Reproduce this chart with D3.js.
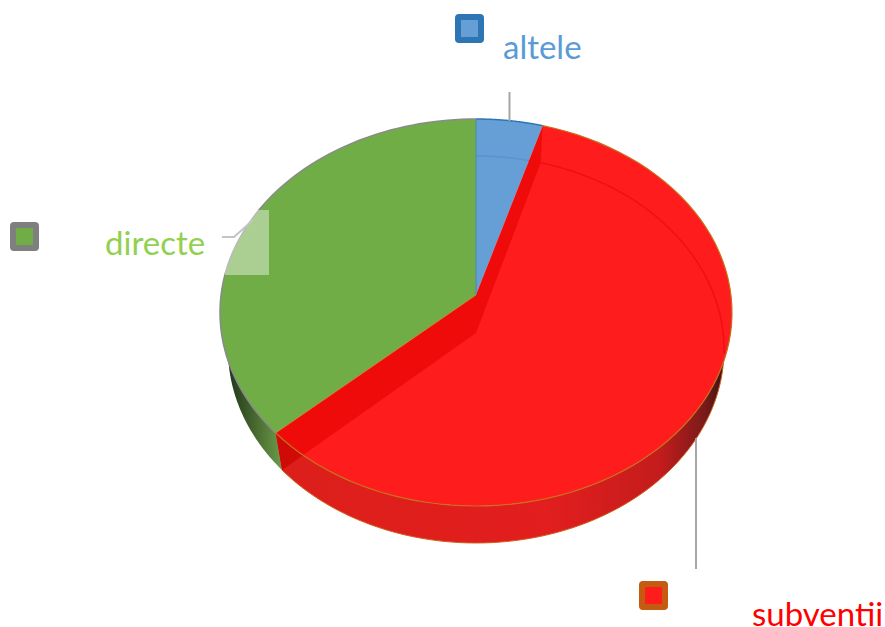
<!DOCTYPE html>
<html>
<head>
<meta charset="utf-8">
<script src="https://cdn.jsdelivr.net/npm/d3@7"></script>
<style>
  html, body { margin: 0; padding: 0; background: #fff; overflow: hidden; }
  text { font-family: Lato, "Open Sans", sans-serif; font-size: 33px; }
</style>
</head>
<body>
<div id="chart"></div>
<script>
// values, clockwise from 12 o'clock
var categories = ['altele', 'subventii', 'directe'];
var values = [4.2, 60.1, 35.7];

var width = 885, height = 627;
var top3d = {cx: 476, cy: 312.5, rx: 256, ry: 193.5};
var bottom3d = {cx: 476, cy: 349.5, rx: 248, ry: 193.5};
var apex = [476, 295], apexLow = [476, 333];

var svg = d3.select('#chart').append('svg')
    .attr('width', width)
    .attr('height', height);

var defs = svg.append('defs');

function gradient(id, x1, x2, stops) {
    var g = defs.append('linearGradient')
        .attr('id', id)
        .attr('gradientUnits', 'userSpaceOnUse')
        .attr('x1', x1).attr('x2', x2)
        .attr('y1', 0).attr('y2', 0);
    stops.forEach(s => g.append('stop').attr('offset', s[0]).attr('stop-color', s[1]));
}

gradient('wallRed', 280, 727, [[0, '#dc1f1a'], [0.6, '#e21e1e'], [0.85, '#c41c1c'], [0.95, '#7a1a1a'], [1, '#2e1212']]);
gradient('wallGreen', 228, 282, [[0, '#22361a'], [0.5, '#47682f'], [1, '#6b9c4a']]);

var arcs = d3.pie().sort(null)(values);
var blue = arcs[0], red = arcs[1], green = arcs[2];

// point on an ellipse, angle clockwise from the top
function pt(e, a) {
    return [e.cx + e.rx * Math.sin(a), e.cy - e.ry * Math.cos(a)];
}

function arcPts(e, a0, a1) {
    var n = 80;
    return d3.range(n + 1).map(i => pt(e, a0 + (a1 - a0) * i / n));
}

var openLine = d3.line();
var closedLine = d3.line().curve(d3.curveLinearClosed);

function face(points, fill, stroke) {
    return svg.append('path')
        .attr('d', closedLine(points))
        .attr('fill', fill)
        .attr('stroke', stroke || 'none');
}

function edge(e, a0, a1, color, w) {
    return svg.append('path')
        .attr('d', openLine(arcPts(e, a0, a1)))
        .attr('fill', 'none')
        .attr('stroke', color)
        .attr('stroke-width', w);
}

var rightSide = Math.PI / 2;
var leftSide = 3 * Math.PI / 2;
var endPt = pt(top3d, red.endAngle), endLow = pt(bottom3d, red.endAngle);
var startPt = pt(top3d, red.startAngle), startLow = pt(bottom3d, red.startAngle);

// side walls
face(arcPts(bottom3d, rightSide, red.endAngle).concat(arcPts(top3d, red.endAngle, rightSide)), 'url(#wallRed)');
face(arcPts(bottom3d, red.endAngle, leftSide).concat(arcPts(top3d, leftSide, red.endAngle)), 'url(#wallGreen)');
face([apexLow, endLow, endPt], '#b01a10');
edge(bottom3d, rightSide, red.endAngle, '#d0601a', 1);

// top faces, the blue inner rim goes under the red face
face([apex].concat(arcPts(top3d, green.startAngle, green.endAngle)), '#70ad47');
face([apex].concat(arcPts(top3d, blue.startAngle, blue.endAngle)), '#659fd6');
edge(bottom3d, blue.startAngle, blue.endAngle, '#5a94cf', 1.5);
face([apex].concat(arcPts(top3d, red.startAngle, red.endAngle)), '#fe1c1c');

// inner cut of the red slice
face([apex, startPt, startLow, apexLow, endLow, endPt], '#e60000').attr('opacity', 0.6);

// bottom rim seen through the top
edge(bottom3d, red.startAngle, rightSide + 0.02, '#f30f0f', 1.5);

// rims
edge(top3d, green.startAngle, green.endAngle, '#8a8a8a', 1.5);
edge(top3d, blue.startAngle, blue.endAngle, '#2e75b6', 1.5);
edge(top3d, red.startAngle, red.endAngle, '#c8701e', 1.2);
svg.append('line')
    .attr('x1', apex[0]).attr('x2', apex[0])
    .attr('y1', top3d.cy - top3d.ry).attr('y2', apex[1])
    .attr('stroke', '#4f8fa8').attr('stroke-width', 1.2);
svg.append('line')
    .attr('x1', endPt[0]).attr('y1', endPt[1])
    .attr('x2', apex[0]).attr('y2', apex[1])
    .attr('stroke', '#c08a2a').attr('stroke-width', 0.8);

// selected highlight on the directe label
svg.append('rect')
    .attr('x', 225).attr('y', 210)
    .attr('width', 44).attr('height', 65)
    .attr('fill', '#fff').attr('opacity', 0.41);

// leader lines
var leaders = [
    [[509.5, 92], [509.5, 121]],
    [[222, 237], [234, 237], [253, 220]],
    [[696, 438], [696, 569]]
];
var leaderColors = ['#a6a6a6', '#c4c4c4', '#a6a6a6'];
leaders.forEach((l, i) => {
    svg.append('path')
        .attr('d', openLine(l))
        .attr('fill', 'none')
        .attr('stroke', leaderColors[i])
        .attr('stroke-width', 2);
});

// label markers and texts
var markers = [
    {x: 455, y: 14, stroke: '#2e75b6', fill: '#659fd6'},
    {x: 639, y: 581, stroke: '#c55a11', fill: '#fe1c1c'},
    {x: 10, y: 222, stroke: '#7f7f7f', fill: '#70ad47'}
];
svg.selectAll('rect.marker')
    .data(markers).enter()
    .append('rect')
    .classed('marker', true)
    .attr('x', d => d.x + 3).attr('y', d => d.y + 3)
    .attr('width', 23).attr('height', 23)
    .attr('rx', 1)
    .attr('fill', d => d.fill)
    .attr('stroke', d => d.stroke)
    .attr('stroke-width', 6);

var labelPos = [[503, 59], [752, 626], [105, 255]];
var labelColors = ['#5b9bd5', '#ff0000', '#92d050'];
svg.selectAll('text.label')
    .data(categories).enter()
    .append('text')
    .classed('label', true)
    .attr('x', (d, i) => labelPos[i][0])
    .attr('y', (d, i) => labelPos[i][1])
    .attr('fill', (d, i) => labelColors[i])
    .text(d => d);
</script>
</body>
</html>
